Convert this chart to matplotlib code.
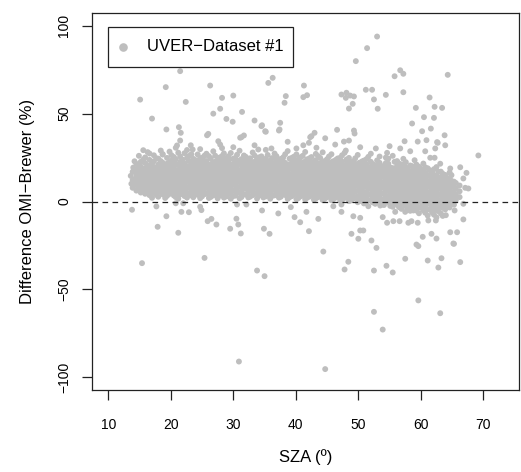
import matplotlib
matplotlib.use("Agg")
import matplotlib.pyplot as plt
from matplotlib.patches import Rectangle
import numpy as np

plt.rcParams['font.family'] = ['Liberation Sans', 'DejaVu Sans']

# dense core of the cloud: column SZA and the differences read in that column
band_sza = [13.9, 14.5, 15.2, 15.9, 16.6, 17.3, 18.0, 18.7, 19.4, 20.1,
            20.8, 21.5, 22.2, 22.9, 23.6, 24.3, 25.0, 25.7, 26.4, 27.1,
            27.8, 28.5, 29.2, 29.9, 30.6, 31.3, 32.0, 32.7, 33.4, 34.1,
            34.8, 35.5, 36.2, 36.9, 37.6, 38.3, 39.0, 39.7, 40.4, 41.1,
            41.8, 42.5, 43.2, 43.9, 44.6, 45.3, 46.0, 46.7, 47.4, 48.1,
            48.8, 49.5, 50.2, 50.9, 51.6, 52.3, 53.0, 53.7, 54.4, 55.1,
            55.8, 56.5, 57.2, 57.9, 58.6, 59.3, 60.0, 60.7, 61.4, 62.1,
            62.8, 63.5, 64.2, 64.9, 65.6, 66.2]
band_diff = [
    [7.8, 12.2, 16.9],
    [6.2, 9.5, 12.4, 15.3, 18.1, 21.4],
    [5.1, 8.6, 11.5, 14.2, 17.0, 19.9, 22.6],
    [4.4, 7.9, 10.3, 13.2, 16.4, 18.8, 21.9, 25.1],
    [3.6, 6.8, 9.8, 12.7, 15.5, 18.3, 20.6, 23.7],
    [4.9, 8.2, 11.1, 14.0, 16.9, 19.6, 22.9, 26.3],
    [2.7, 6.0, 9.3, 12.3, 15.1, 17.8, 21.0, 24.4],
    [4.1, 7.4, 10.5, 13.6, 16.2, 19.2, 22.1, 27.0],
    [3.2, 6.6, 9.6, 12.9, 15.8, 18.6, 21.5, 24.8],
    [5.3, 8.5, 11.4, 14.5, 17.2, 20.3, 23.2, 26.4],
    [2.5, 5.8, 9.1, 12.0, 14.9, 17.9, 21.2, 24.0],
    [4.0, 7.2, 10.2, 13.3, 16.6, 19.4, 22.5, 25.6],
    [3.1, 6.4, 9.7, 12.6, 15.6, 18.5, 21.7, 27.5],
    [4.6, 8.0, 11.0, 14.1, 17.0, 20.0, 23.1, 25.9],
    [2.4, 5.6, 8.9, 12.2, 15.2, 18.2, 21.0, 24.3],
    [3.8, 7.1, 10.4, 13.5, 16.5, 19.3, 22.4, 26.8],
    [2.9, 6.3, 9.4, 12.5, 15.5, 18.8, 21.8, 24.9],
    [4.5, 7.8, 10.9, 13.9, 16.9, 19.8, 23.0, 27.2],
    [2.6, 5.9, 9.0, 12.1, 15.0, 18.1, 21.3, 24.5],
    [4.2, 7.5, 10.6, 13.7, 16.7, 19.6, 22.7, 26.1],
    [3.3, 6.7, 9.8, 12.8, 15.9, 18.7, 21.6, 25.0],
    [2.2, 5.5, 8.7, 11.8, 14.7, 17.7, 20.8, 23.9, 27.4],
    [4.3, 7.6, 10.7, 13.8, 16.8, 19.9, 22.8, 25.7],
    [3.0, 6.2, 9.5, 12.4, 15.4, 18.4, 21.1, 24.2],
    [4.7, 7.9, 11.3, 14.3, 17.4, 20.4, 23.4, 26.6],
    [2.5, 5.7, 9.2, 12.3, 15.3, 18.0, 20.9, 24.1],
    [3.9, 7.3, 10.1, 13.4, 16.3, 19.1, 22.2, 25.4],
    [2.8, 6.1, 9.4, 12.6, 15.7, 18.6, 21.5, 24.6],
    [4.4, 7.7, 10.8, 13.9, 16.6, 19.7, 22.6, 26.2],
    [3.4, 6.5, 9.7, 12.9, 15.8, 18.9, 21.9, 25.1],
    [2.3, 5.4, 8.8, 11.9, 14.8, 17.7, 20.7, 23.6],
    [4.1, 7.4, 10.5, 13.5, 16.4, 19.5, 22.4, 26.5],
    [3.1, 6.4, 9.6, 12.7, 15.6, 18.3, 21.4, 24.7],
    [4.8, 8.1, 11.2, 14.4, 17.3, 20.2, 23.3, 25.8],
    [2.7, 5.9, 9.1, 12.0, 15.1, 18.0, 21.0, 24.2],
    [3.7, 7.0, 10.3, 13.2, 16.1, 19.0, 22.0, 26.9],
    [2.4, 5.6, 8.9, 12.2, 15.2, 18.5, 21.2, 24.4],
    [4.0, 7.2, 10.4, 13.6, 16.7, 19.4, 22.6, 25.5],
    [1.9, 5.2, 8.4, 11.6, 14.6, 17.5, 20.6, 23.8],
    [3.5, 6.8, 10.0, 13.1, 16.0, 18.9, 22.1, 26.0],
    [2.1, 5.3, 8.6, 11.7, 14.9, 17.8, 20.8, 24.0],
    [3.6, 6.9, 9.9, 13.0, 16.2, 19.2, 22.3, 25.3],
    [1.7, 4.9, 8.3, 11.4, 14.5, 17.4, 20.5, 23.5, 27.1],
    [3.2, 6.6, 9.7, 12.8, 15.9, 18.7, 21.8, 24.8],
    [1.5, 4.7, 8.0, 11.1, 14.2, 17.1, 20.1, 23.0],
    [3.0, 6.3, 9.3, 12.5, 15.5, 18.4, 21.5, 25.6],
    [1.3, 4.6, 7.8, 10.9, 14.0, 16.9, 19.9, 22.9],
    [2.8, 6.0, 9.2, 12.3, 15.3, 18.2, 21.2, 24.5],
    [0.9, 4.2, 7.5, 10.6, 13.7, 16.6, 19.6, 22.7, 26.3],
    [2.5, 5.8, 9.0, 12.1, 15.0, 18.0, 21.0, 23.9],
    [0.6, 3.9, 7.1, 10.3, 13.4, 16.4, 19.3, 22.4],
    [2.2, 5.5, 8.7, 11.8, 14.8, 17.8, 20.7, 24.6],
    [0.2, 3.4, 6.7, 9.9, 13.0, 16.0, 19.0, 22.1],
    [-1.1, 2.0, 5.2, 8.4, 11.5, 14.6, 17.5, 20.4, 23.3],
    [0.8, 4.0, 7.3, 10.5, 13.6, 16.7, 19.7, 25.4],
    [-0.5, 2.7, 5.9, 9.1, 12.2, 15.2, 18.1, 21.3],
    [1.2, 4.4, 7.7, 10.8, 13.9, 17.0, 20.0, 23.4],
    [-1.8, 1.4, 4.6, 7.9, 11.0, 14.1, 17.2, 20.2],
    [0.1, 3.3, 6.5, 9.6, 12.7, 15.8, 18.8, 21.9, 25.0],
    [-2.5, 0.7, 3.9, 7.2, 10.3, 13.5, 16.5, 19.4],
    [-0.8, 2.4, 5.6, 8.8, 11.9, 15.1, 18.3, 22.6],
    [-3.2, 0.0, 3.1, 6.3, 9.5, 12.6, 15.7, 18.7, 21.6],
    [-1.4, 1.9, 5.1, 8.3, 11.4, 14.4, 17.6, 20.8, 24.3],
    [-4.0, -0.7, 2.5, 5.7, 8.9, 12.0, 15.0, 18.1],
    [-2.3, 0.9, 4.1, 7.3, 10.4, 13.6, 16.8, 20.1],
    [-5.2, -2.0, 1.3, 4.5, 7.7, 10.9, 14.0, 17.2, 21.0],
    [-3.5, -0.3, 2.9, 6.0, 9.2, 12.4, 15.5, 18.6],
    [-6.4, -3.0, 0.3, 3.5, 6.8, 9.9, 13.1, 16.2, 19.5],
    [-4.6, -1.3, 1.9, 5.1, 8.3, 11.4, 14.6, 17.8],
    [-7.5, -4.1, -0.9, 2.3, 5.6, 8.8, 12.0, 15.1, 18.4],
    [-5.5, -2.2, 1.0, 4.3, 7.5, 10.7, 13.8, 16.9],
    [-8.2, -3.6, -0.3, 2.9, 6.2, 9.4, 12.6, 15.8],
    [-2.6, 0.6, 3.8, 7.0, 10.2, 13.4],
    [-1.0, 2.2, 5.4, 8.6, 11.7, 15.0],
    [0.9, 4.0, 7.2, 10.5],
    [2.5, 5.8, 9.1],
]

# second, staggered layer of the core (fills the gaps, ragged edges)
band2_sza = [14.2, 14.9, 15.6, 16.3, 17.0, 17.7, 18.4, 19.1, 19.8, 20.5,
             21.2, 21.9, 22.6, 23.3, 24.0, 24.7, 25.4, 26.1, 26.8, 27.5,
             28.2, 28.9, 29.6, 30.3, 31.0, 31.7, 32.4, 33.1, 33.8, 34.5,
             35.2, 35.9, 36.6, 37.3, 38.0, 38.7, 39.4, 40.1, 40.8, 41.5,
             42.2, 42.9, 43.6, 44.3, 45.0, 45.7, 46.4, 47.1, 47.8, 48.5,
             49.2, 49.9, 50.6, 51.3, 52.0, 52.7, 53.4, 54.1, 54.8, 55.5,
             56.2, 56.9, 57.6, 58.3, 59.0, 59.7, 60.4, 61.1, 61.8, 62.5,
             63.2, 63.9, 64.6, 65.3]
band2_diff = [
    [9.4, 12.8, 17.6, 22.9],
    [7.6, 10.9, 13.9, 16.8, 19.9, 26.0],
    [6.5, 9.8, 12.7, 15.8, 18.5, 23.9],
    [5.3, 8.6, 11.6, 14.3, 17.2, 20.0, 28.1],
    [2.1, 6.2, 9.4, 12.4, 15.3, 18.0, 21.6],
    [3.8, 7.0, 10.1, 13.0, 16.2, 19.0, 24.6],
    [5.4, 8.4, 11.5, 14.2, 17.1, 20.0, 23.0, 29.0],
    [2.0, 5.1, 8.2, 11.6, 14.6, 17.4, 20.3],
    [4.3, 7.4, 10.4, 13.6, 16.5, 19.5, 22.3, 28.4],
    [3.4, 6.9, 10.0, 13.1, 16.0, 18.8, 21.9, 25.3],
    [1.6, 4.7, 8.0, 11.1, 14.4, 17.6, 20.8, 27.8],
    [5.5, 8.6, 11.7, 14.7, 17.8, 20.6, 23.8],
    [2.2, 5.0, 8.1, 11.3, 14.3, 17.3, 20.1, 24.8, 29.3],
    [3.5, 6.9, 10.0, 13.0, 16.1, 19.3, 22.2, 26.9],
    [4.6, 7.9, 11.1, 14.0, 17.1, 20.4, 23.5],
    [1.9, 5.5, 8.6, 11.9, 15.0, 18.0, 21.0, 24.6, 29.8],
    [4.2, 7.5, 10.8, 13.9, 16.9, 20.0, 23.0, 26.1],
    [2.0, 5.3, 8.5, 11.6, 14.6, 17.8, 20.6, 25.8],
    [3.5, 6.8, 9.9, 13.1, 16.1, 19.1, 22.1, 28.6],
    [1.8, 5.1, 8.4, 11.5, 14.4, 17.4, 20.5, 23.7],
    [4.0, 7.2, 10.3, 13.3, 16.5, 19.4, 22.5, 25.9, 30.4],
    [2.9, 6.2, 9.2, 12.4, 15.3, 18.4, 21.4, 24.6],
    [1.6, 5.0, 8.3, 11.4, 14.5, 17.5, 20.5, 27.6],
    [3.3, 6.7, 10.0, 13.0, 16.1, 19.0, 21.9, 24.8],
    [1.8, 5.2, 8.4, 11.6, 14.8, 17.9, 21.9, 28.9],
    [4.1, 7.4, 10.6, 13.7, 16.8, 19.8, 22.9, 26.2],
    [2.3, 5.6, 8.8, 11.9, 15.0, 18.0, 20.8, 23.9],
    [3.6, 6.9, 10.1, 13.2, 16.1, 19.2, 22.2, 27.9],
    [1.7, 5.1, 8.2, 11.3, 14.6, 17.6, 20.6, 24.3],
    [4.0, 7.2, 10.4, 13.4, 16.4, 19.5, 22.5, 25.7],
    [2.9, 6.1, 9.2, 12.3, 15.2, 18.2, 21.2, 24.4, 29.4],
    [1.6, 4.9, 8.1, 11.1, 14.2, 17.1, 20.2, 23.3],
    [3.5, 6.9, 10.1, 13.2, 16.0, 18.9, 22.0, 27.3],
    [2.2, 5.4, 8.7, 11.9, 14.9, 17.9, 20.8, 23.8],
    [4.3, 7.6, 10.7, 13.8, 16.8, 19.7, 22.7, 25.2],
    [1.5, 4.9, 8.1, 11.2, 14.2, 17.3, 20.4, 28.7],
    [3.1, 6.5, 9.6, 12.8, 15.8, 18.9, 21.8, 24.9],
    [1.3, 4.7, 7.9, 11.0, 14.1, 17.1, 20.1, 23.1, 26.8],
    [3.0, 6.3, 9.4, 12.5, 15.5, 18.4, 21.6, 25.2],
    [1.2, 4.5, 7.7, 10.8, 13.9, 16.9, 19.9, 22.8, 28.2],
    [2.8, 6.1, 9.3, 12.4, 15.3, 18.4, 21.4, 24.6],
    [1.0, 4.3, 7.6, 10.6, 13.7, 16.7, 19.7, 22.5],
    [2.5, 5.9, 9.1, 12.2, 15.2, 18.2, 21.1, 25.8],
    [0.8, 4.0, 7.2, 10.4, 13.4, 16.5, 19.5, 22.3, 28.0],
    [2.4, 5.6, 8.8, 11.9, 14.9, 17.9, 20.9, 24.1],
    [0.7, 3.9, 7.1, 10.2, 13.3, 16.3, 19.3, 22.4, 26.9],
    [2.2, 5.4, 8.6, 11.7, 14.7, 17.7, 20.6, 23.7],
    [0.5, 3.7, 6.9, 10.0, 13.1, 16.1, 19.1, 22.0, 24.9],
    [2.0, 5.2, 8.3, 11.4, 14.4, 17.4, 20.4, 27.7],
    [0.2, 3.4, 6.6, 9.8, 12.9, 15.9, 18.9, 21.8, 24.8],
    [1.7, 4.9, 8.1, 11.2, 14.2, 17.2, 20.2, 22.9],
    [-0.4, 2.8, 6.1, 9.3, 12.4, 15.4, 18.5, 21.5, 26.5],
    [1.1, 4.3, 7.5, 10.7, 13.8, 16.8, 19.8, 22.8],
    [-0.9, 2.3, 5.5, 8.8, 11.9, 15.0, 18.0, 21.0, 24.1],
    [0.7, 3.9, 7.0, 10.2, 13.3, 16.4, 19.4, 22.6, 27.2],
    [-1.3, 1.9, 5.0, 8.2, 11.4, 14.5, 17.5, 20.5],
    [0.4, 3.5, 6.8, 9.9, 13.0, 16.0, 19.0, 22.0, 25.6],
    [-2.0, 1.2, 4.4, 7.6, 10.8, 13.9, 17.0, 20.0],
    [-0.4, 2.8, 6.0, 9.2, 12.3, 15.4, 18.4, 21.5, 24.4],
    [-3.0, 0.2, 3.4, 6.6, 9.8, 12.9, 16.0, 19.0, 26.0],
    [-1.7, 1.5, 4.7, 7.9, 11.0, 14.2, 17.2, 20.3, 23.0],
    [-4.2, -0.9, 2.3, 5.5, 8.7, 11.8, 14.9, 18.0, 21.1],
    [-2.7, 0.5, 3.7, 6.9, 10.0, 13.2, 16.3, 19.4, 22.4],
    [-5.3, -1.9, 1.3, 4.5, 7.7, 10.9, 14.1, 17.2, 20.5],
    [-3.8, -0.6, 2.6, 5.8, 9.0, 12.2, 15.4, 18.5, 23.5],
    [-6.7, -3.3, 0.0, 3.2, 6.4, 9.6, 12.7, 15.9, 19.8],
    [-5.0, -1.7, 1.5, 4.7, 7.9, 11.1, 14.2, 17.4, 21.6],
    [-8.0, -4.4, -1.1, 2.1, 5.3, 8.5, 11.7, 14.9, 18.9],
    [-6.2, -2.9, 0.3, 3.6, 6.9, 10.1, 13.3, 16.5],
    [-9.0, -4.9, -1.6, 1.7, 5.0, 8.2, 11.4, 14.6, 19.6],
    [-6.8, -3.0, 0.4, 3.7, 7.0, 10.2, 13.4, 17.0],
    [-4.5, -1.2, 2.0, 5.3, 8.5, 11.8, 15.1],
    [-3.4, 0.0, 3.2, 6.4, 9.6, 12.9, 16.5],
    [-1.8, 1.6, 4.9, 8.1, 11.3],
]

# scattered points above the core
high_sza = [21.5, 19.2, 26.3, 36.3, 35.6, 41.3, 15.1, 22.4, 28.2, 30.0,
            38.4, 38.2, 41.2, 41.8, 17.0, 26.8, 27.9, 31.4, 28.9, 29.9,
            33.4, 34.5, 37.5, 37.4, 19.3, 21.3, 21.6, 26.0, 31.7, 31.1,
            35.2, 53.0, 51.4, 49.6, 56.7, 57.2, 55.8, 64.3, 47.3, 48.1,
            48.7, 49.3, 48.0, 49.1, 48.5, 51.2, 52.2, 52.5, 53.1, 54.4,
            57.2, 61.4, 59.2, 62.2, 63.4, 60.5, 62.1, 58.6, 60.2, 61.6,
            63.8, 46.6, 49.3, 49.4, 43.0, 42.3, 44.7, 47.7, 48.5, 59.5,
            60.9, 62.6, 21.5, 21.0, 20.8, 15.6, 16.6, 18.7, 23.2, 23.5,
            25.8, 27.6, 27.9, 31.3, 34.6, 35.1, 37.3, 33.4, 34.0, 30.0,
            38.7, 42.5, 42.1, 36.1, 40.1, 41.2, 46.3, 50.3, 48.0, 52.8,
            55.0, 54.6, 57.4, 56.7, 58.3, 43.3, 62.7, 63.9, 62.3, 60.7,
            61.5, 62.2, 63.1, 64.7, 66.3, 67.3, 66.8, 67.1, 67.6, 69.2,
            13.7, 13.6, 14.0]
high_diff = [74.2, 65.1, 66.0, 70.4, 67.5, 66.0, 58.0, 56.7, 59.0, 60.3,
             60.0, 56.2, 59.4, 60.5, 47.2, 50.0, 52.8, 51.0, 47.0, 45.4,
             46.1, 42.9, 44.8, 41.0, 41.0, 42.3, 39.1, 38.5, 37.6, 36.3,
             39.7, 93.9, 87.3, 79.9, 74.7, 72.7, 71.3, 72.1, 60.9, 61.9,
             60.3, 59.8, 59.0, 55.6, 52.9, 63.6, 63.6, 58.1, 52.8, 60.7,
             62.2, 59.2, 53.3, 53.9, 53.3, 48.0, 47.6, 44.4, 40.0, 41.5,
             37.7, 40.8, 40.4, 38.7, 39.1, 36.6, 36.0, 34.1, 34.7, 34.1,
             34.9, 33.8, 34.7, 31.9, 30.6, 29.2, 27.3, 26.7, 32.0, 29.6,
             37.7, 34.3, 32.4, 36.6, 43.4, 40.0, 40.4, 32.0, 29.6, 30.9,
             34.0, 37.2, 33.4, 30.2, 30.2, 32.0, 32.4, 30.9, 29.0, 30.2,
             31.5, 27.7, 34.3, 30.2, 28.6, 30.6, 33.4, 32.0, 30.2, 28.6,
             24.9, 24.9, 21.5, 18.8, 19.5, 16.3, 13.1, 7.8, 7.4, 26.2,
             10.1, 14.6, 19.3]

# scattered points below the core
low_sza = [13.8, 17.7, 19.3, 17.9, 21.2, 21.7, 22.9, 24.9, 25.9, 20.8,
           22.0, 24.7, 26.5, 27.3, 29.5, 30.5, 30.8, 31.2, 30.6, 32.1,
           34.6, 34.9, 35.8, 37.2, 39.2, 39.8, 40.7, 41.7, 42.1, 43.6,
           46.0, 47.3, 47.3, 49.2, 50.3, 48.9, 50.3, 50.8, 50.0, 52.1,
           51.6, 53.5, 53.9, 54.6, 55.9, 55.6, 56.6, 58.0, 58.5, 57.5,
           58.8, 52.9, 59.3, 66.8, 65.4, 64.0, 66.8, 59.5, 61.2, 62.4,
           64.7, 65.8, 61.7, 60.3, 62.5, 65.2, 59.6, 15.4, 25.4, 33.8,
           35.0, 30.9, 44.4, 44.7, 47.8, 48.4, 52.5, 54.5, 55.5, 52.5,
           53.9, 57.5, 59.6, 61.1, 62.8, 63.3, 63.1, 65.3, 66.3]
low_diff = [-4.7, -2.8, -8.4, -14.4, -17.8, -5.9, -6.1, -4.9, -11.2, -1.0,
            -1.0, -3.0, -9.9, -13.1, -15.5, -9.8, -13.1, -18.2, -1.7, -1.7,
            -5.1, -15.5, -18.4, -6.8, -3.2, -8.9, -11.8, -5.9, -16.9, -9.9,
            -2.7, -5.9, -1.7, -8.4, -9.3, -18.4, -16.5, -16.5, -21.2, -22.2,
            -2.7, -2.3, -8.9, -12.1, -5.9, -11.2, -11.2, -12.1, -11.2, -5.9,
            -5.1, -26.4, -24.5, -1.3, -5.1, -7.8, -10.2, -12.1, -10.8, -10.8,
            -17.5, -17.5, -18.4, -20.1, -21.1, -23.9, -25.4, -35.1, -32.1, -39.3,
            -42.5, -91.1, -28.5, -95.4, -38.7, -34.3, -39.3, -36.6, -40.4, -62.8,
            -72.9, -32.6, -56.3, -33.6, -37.6, -32.3, -63.6, -24.1, -34.5]


def columns(xs, ys):
    x = np.concatenate([[s] * len(d) for s, d in zip(xs, ys)])
    return x, np.concatenate(ys)


c1x, c1y = columns(band_sza, band_diff)
c2x, c2y = columns(band2_sza, band2_diff)
sza = np.concatenate([c1x, c2x, high_sza, low_sza])
diff = np.concatenate([c1y, c2y, high_diff, low_diff])

fig = plt.figure(figsize=(5.21, 4.72), dpi=100)
ax = fig.add_axes([92 / 521, 82 / 472, 427 / 521, 377 / 472])

pt_col = '#bebebe'
ax.scatter(sza, diff, s=18, color=pt_col, edgecolors='none', zorder=2)
ax.axhline(0, color='#222222', lw=0.9, ls=(0, (4.5, 3.5)), zorder=3)

ax.set_xlim(7.4, 75.7)
ax.set_ylim(-107.3, 107.3)
ax.set_xticks([10, 20, 30, 40, 50, 60, 70])
ax.set_yticks([-100, -50, 0, 50, 100])

for sp in ax.spines.values():
    sp.set_linewidth(0.9)
    sp.set_color('#222222')
ax.tick_params(direction='out', length=7, width=0.9, color='#222222',
               labelsize=10)
ax.tick_params(axis='x', pad=13)
ax.tick_params(axis='y', pad=8)
for lab in ax.get_yticklabels():
    lab.set_rotation(90)
    lab.set_va('center')

ax.set_xlabel('SZA (º)', fontsize=12, labelpad=12.5)
ax.set_ylabel('Difference OMI−Brewer (%)', fontsize=12, labelpad=16)

# legend box drawn like R's legend()
ax.add_patch(Rectangle((0.0375, 0.857), 0.433, 0.107, transform=ax.transAxes,
                       fill=False, lw=0.9, ec='#222222', zorder=4))
ax.plot([0.072], [0.910], 'o', ms=6.2, color=pt_col, mec='none',
        transform=ax.transAxes, zorder=4)
ax.text(0.128, 0.910, 'UVER−Dataset #1', transform=ax.transAxes,
        fontsize=12, va='center', ha='left', zorder=4)

fig.savefig('out.png', dpi=100)
